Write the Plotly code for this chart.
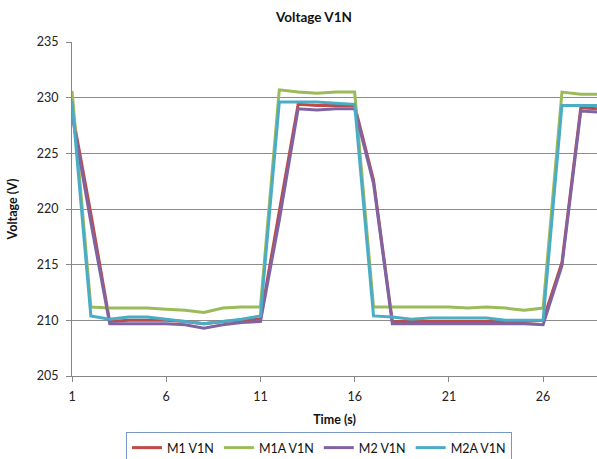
import plotly.graph_objects as go

time_s = list(range(1, 30))
m1_v1n = [228.8, 219.6, 209.9, 210.0, 210.0, 210.0, 209.9, 209.7, 209.9, 210.0,
          210.1, 219.8, 229.4, 229.3, 229.3, 229.3, 222.6, 209.9, 209.9, 209.9,
          209.9, 209.9, 209.9, 209.9, 209.9, 210.0, 215.2, 229.1, 229.0]
m1a_v1n = [230.6, 211.2, 211.1, 211.1, 211.1, 211.0, 210.9, 210.7, 211.1, 211.2,
           211.2, 230.7, 230.5, 230.4, 230.5, 230.5, 211.2, 211.2, 211.2, 211.2,
           211.2, 211.1, 211.2, 211.1, 210.9, 211.1, 230.5, 230.3, 230.3]
m2_v1n = [228.5, 218.8, 209.7, 209.7, 209.7, 209.7, 209.6, 209.3, 209.6, 209.8,
          209.9, 219.0, 229.0, 228.9, 229.0, 229.0, 222.3, 209.7, 209.7, 209.7,
          209.7, 209.7, 209.7, 209.7, 209.7, 209.6, 214.9, 228.8, 228.7]
m2a_v1n = [229.7, 210.4, 210.1, 210.3, 210.3, 210.1, 209.9, 209.7, 209.9, 210.1,
           210.4, 229.6, 229.6, 229.6, 229.5, 229.4, 210.4, 210.3, 210.1, 210.2,
           210.2, 210.2, 210.2, 210.0, 210.0, 210.0, 229.3, 229.3, 229.3]

series = [
    ("M1 V1N", m1_v1n, "#BE4B48"),
    ("M1A V1N", m1a_v1n, "#9BBB59"),
    ("M2 V1N", m2_v1n, "#8064A2"),
    ("M2A V1N", m2a_v1n, "#4BACC6"),
]

FONT = "Lato, 'Open Sans', sans-serif"
fig = go.Figure()
for name, vals, col in series:
    fig.add_trace(go.Scatter(x=time_s, y=vals, name=name, mode="lines",
                             line=dict(color=col, width=3)))

fig.update_layout(
    width=597, height=459,
    margin=dict(l=72, r=0, t=42, b=83, autoexpand=False),
    paper_bgcolor="white", plot_bgcolor="white",
    font=dict(family=FONT, size=12, color="#222"),
    title=dict(text="<b>Voltage V1N</b>", x=314/597, xanchor="center",
               y=1 - 17.5/459, yanchor="middle", font=dict(size=13.5, color="#111")),
    legend=dict(orientation="h", xref="container", yref="container",
                x=319/597, xanchor="center", y=1 - 432/459, yanchor="top",
                bordercolor="#7A96C8", borderwidth=1, itemwidth=30,
                font=dict(size=12.5, color="#111"), tracegroupgap=0),
    showlegend=True,
)
fig.update_xaxes(range=[1, 28.86], tick0=1, dtick=5, showgrid=False,
                 showline=True, linecolor="#868686", linewidth=1,
                 ticks="outside", ticklen=5, tickcolor="#868686",
                 zeroline=False, automargin=False, ticklabelstandoff=4,
                 title=dict(text="<b>Time (s)</b>", standoff=12, font=dict(size=12.5, color="#111")),
                 tickfont=dict(size=12.5, color="#222"))
fig.update_yaxes(range=[205, 235], dtick=5, showgrid=True, gridcolor="#8C8C8C",
                 gridwidth=1, showline=True, linecolor="#868686", linewidth=1,
                 ticks="outside", ticklen=5, tickcolor="#868686", zeroline=False,
                 automargin=False, ticklabelstandoff=5,
                 title=dict(text="<b>Voltage (V)</b>", standoff=16, font=dict(size=12.5, color="#111")),
                 tickfont=dict(size=12.5, color="#222"))

fig.write_html("out.html", config={"displayModeBar": False},
               post_script="document.body.style.margin='0';document.body.style.overflow='hidden';")
